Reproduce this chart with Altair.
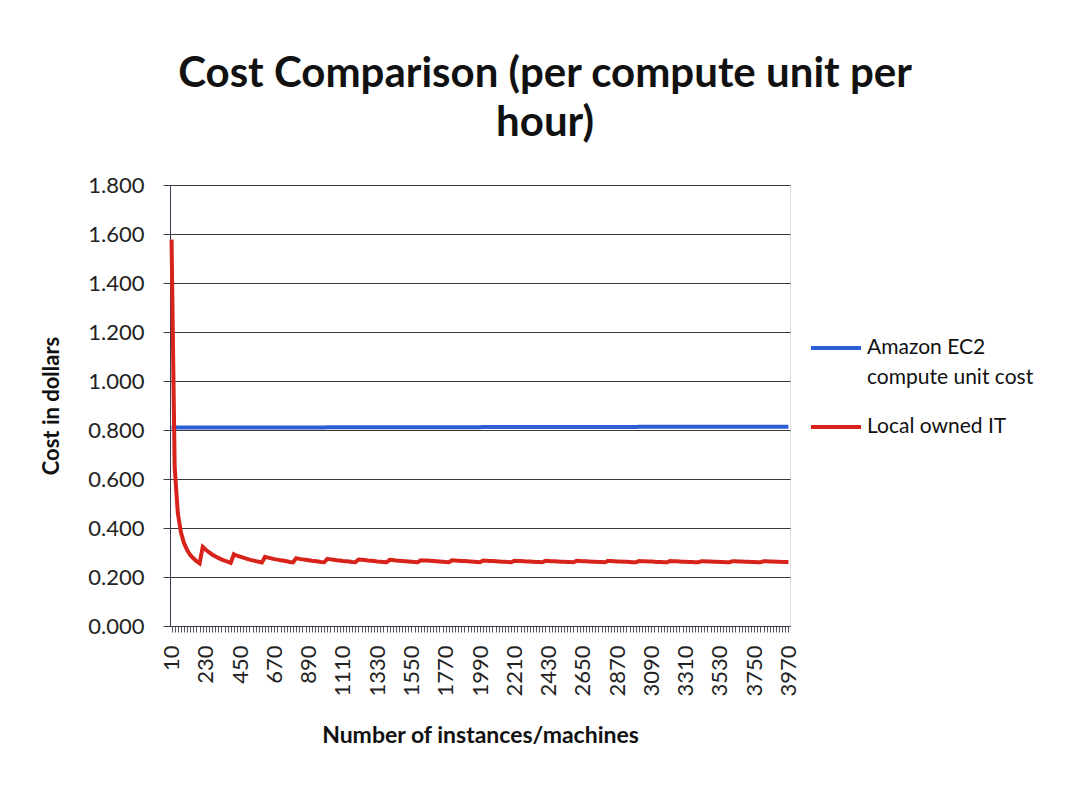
import altair as alt
import pandas as pd

# Category axis: number of instances/machines (every 20)
instances = list(range(10, 3971, 20))

x_tick_labels = [10, 230, 450, 670, 890, 1110, 1330, 1550, 1770, 1990,
                 2210, 2430, 2650, 2870, 3090, 3310, 3530, 3750, 3970]

y_ticks = [0.0, 0.2, 0.4, 0.6, 0.8, 1.0, 1.2, 1.4, 1.6, 1.8]

series_names = ["Amazon EC2 compute unit cost", "Local owned IT"]

amazon_ec2 = [
    0.810, 0.810, 0.810, 0.810, 0.810, 0.810, 0.810, 0.810, 0.810, 0.810,
    0.810, 0.810, 0.810, 0.810, 0.810, 0.810, 0.810, 0.810, 0.810, 0.810,
    0.810, 0.810, 0.810, 0.810, 0.810, 0.810, 0.810, 0.810, 0.810, 0.810,
    0.810, 0.810, 0.810, 0.810, 0.810, 0.810, 0.810, 0.810, 0.810, 0.810,
    0.810, 0.810, 0.810, 0.810, 0.810, 0.810, 0.810, 0.810, 0.810, 0.810,
    0.811, 0.811, 0.811, 0.811, 0.811, 0.811, 0.811, 0.811, 0.811, 0.811,
    0.811, 0.811, 0.811, 0.811, 0.811, 0.811, 0.811, 0.811, 0.811, 0.811,
    0.811, 0.811, 0.811, 0.811, 0.811, 0.811, 0.811, 0.811, 0.811, 0.811,
    0.811, 0.811, 0.811, 0.811, 0.811, 0.811, 0.811, 0.811, 0.811, 0.811,
    0.811, 0.811, 0.811, 0.811, 0.811, 0.811, 0.811, 0.811, 0.811, 0.811,
    0.812, 0.812, 0.812, 0.812, 0.812, 0.812, 0.812, 0.812, 0.812, 0.812,
    0.812, 0.812, 0.812, 0.812, 0.812, 0.812, 0.812, 0.812, 0.812, 0.812,
    0.812, 0.812, 0.812, 0.812, 0.812, 0.812, 0.812, 0.812, 0.812, 0.812,
    0.812, 0.812, 0.812, 0.812, 0.812, 0.812, 0.812, 0.812, 0.812, 0.812,
    0.812, 0.812, 0.812, 0.812, 0.812, 0.812, 0.812, 0.812, 0.812, 0.812,
    0.813, 0.813, 0.813, 0.813, 0.813, 0.813, 0.813, 0.813, 0.813, 0.813,
    0.813, 0.813, 0.813, 0.813, 0.813, 0.813, 0.813, 0.813, 0.813, 0.813,
    0.813, 0.813, 0.813, 0.813, 0.813, 0.813, 0.813, 0.813, 0.813, 0.813,
    0.813, 0.813, 0.813, 0.813, 0.813, 0.813, 0.813, 0.813, 0.813, 0.813,
    0.813, 0.813, 0.813, 0.813, 0.813, 0.813, 0.813, 0.813, 0.813,
]

local_owned_it = [
    1.577, 0.648, 0.462, 0.382, 0.338, 0.310, 0.290, 0.276, 0.265, 0.256,
    0.323, 0.311, 0.301, 0.292, 0.285, 0.278, 0.272, 0.267, 0.263, 0.258,
    0.293, 0.287, 0.283, 0.279, 0.275, 0.271, 0.268, 0.265, 0.262, 0.259,
    0.282, 0.279, 0.276, 0.273, 0.271, 0.268, 0.266, 0.264, 0.261, 0.260,
    0.277, 0.274, 0.272, 0.270, 0.268, 0.266, 0.265, 0.263, 0.261, 0.260,
    0.274, 0.272, 0.270, 0.268, 0.267, 0.265, 0.264, 0.263, 0.261, 0.260,
    0.271, 0.270, 0.269, 0.267, 0.266, 0.265, 0.263, 0.262, 0.261, 0.260,
    0.270, 0.269, 0.267, 0.266, 0.265, 0.264, 0.263, 0.262, 0.261, 0.260,
    0.268, 0.267, 0.267, 0.266, 0.265, 0.264, 0.263, 0.262, 0.261, 0.260,
    0.268, 0.267, 0.266, 0.265, 0.265, 0.264, 0.263, 0.262, 0.261, 0.260,
    0.267, 0.266, 0.265, 0.265, 0.264, 0.263, 0.262, 0.262, 0.261, 0.260,
    0.266, 0.265, 0.265, 0.264, 0.263, 0.263, 0.262, 0.261, 0.261, 0.260,
    0.266, 0.265, 0.264, 0.264, 0.263, 0.262, 0.262, 0.261, 0.261, 0.260,
    0.266, 0.265, 0.264, 0.264, 0.263, 0.262, 0.262, 0.261, 0.261, 0.260,
    0.265, 0.265, 0.264, 0.263, 0.263, 0.262, 0.262, 0.261, 0.260, 0.260,
    0.265, 0.264, 0.264, 0.263, 0.263, 0.262, 0.261, 0.261, 0.260, 0.260,
    0.265, 0.264, 0.264, 0.263, 0.262, 0.262, 0.261, 0.261, 0.260, 0.260,
    0.264, 0.264, 0.263, 0.263, 0.262, 0.262, 0.261, 0.261, 0.260, 0.260,
    0.264, 0.264, 0.263, 0.263, 0.262, 0.262, 0.261, 0.261, 0.260, 0.260,
    0.264, 0.264, 0.263, 0.263, 0.262, 0.262, 0.261, 0.261, 0.261,
]

line_colors = ["#2c5fd4", "#d8231b"]

rows = []
for n, a, l in zip(instances, amazon_ec2, local_owned_it):
    rows.append({"instances": n, "series": series_names[0], "cost": a})
    rows.append({"instances": n, "series": series_names[1], "cost": l})
df = pd.DataFrame(rows)

label_list = ",".join(str(v) for v in x_tick_labels)
x_label_expr = f"indexof([{label_list}], datum.value) >= 0 ? datum.label : ''"

legend_label_expr = (
    "datum.label == 'Amazon EC2 compute unit cost' ? "
    "['Amazon EC2', 'compute unit cost'] : datum.label"
)

chart = (
    alt.Chart(df)
    .mark_line(strokeWidth=4)
    .encode(
        x=alt.X(
            "instances:O",
            sort=instances,
            scale=alt.Scale(padding=0.5),
            axis=alt.Axis(
                title="Number of instances/machines",
                values=instances,
                labelExpr=x_label_expr,
                labelAngle=270,
                labelAlign="right",
                labelBaseline="middle",
                labelOverlap=False,
                labelFlush=False,
                labelPadding=13,
                labelFont="Lato",
                labelFontSize=22,
                labelColor="#222222",
                tickSize=6,
                tickColor="#555566",
                domainColor="#3a3a50",
                titleFont="Lato",
                titleFontSize=23,
                titleFontWeight="bold",
                titleColor="#111111",
                titlePadding=28,
                grid=False,
            ),
        ),
        y=alt.Y(
            "cost:Q",
            scale=alt.Scale(domain=[0, 1.8], nice=False),
            axis=alt.Axis(
                title="Cost in dollars",
                values=y_ticks,
                format=".3f",
                labelFont="Lato",
                labelFontSize=22,
                labelColor="#222222",
                labelPadding=19,
                tickSize=7,
                tickColor="#3a3a50",
                domainColor="#3a3a50",
                gridColor="#3a3a3a",
                gridWidth=1,
                titleFont="Lato",
                titleFontSize=22,
                titleFontWeight="bold",
                titleColor="#111111",
                titlePadding=24,
            ),
        ),
        color=alt.Color(
            "series:N",
            scale=alt.Scale(domain=series_names, range=line_colors),
            legend=alt.Legend(
                title=None,
                orient="none",
                legendX=639,
                legendY=136,
                symbolType="stroke",
                symbolSize=2500,
                symbolStrokeWidth=4,
                labelFont="Lato",
                labelFontSize=21,
                labelColor="#111111",
                labelExpr=legend_label_expr,
                labelBaseline="middle",
                labelOffset=4,
                rowPadding=12,
                labelLimit=300,
            ),
        ),
    )
    .properties(
        width=620,
        height=441,
        title=alt.TitleParams(
            text=["Cost Comparison (per compute unit per", "hour)"],
            font="Lato",
            fontSize=42,
            fontWeight="bold",
            color="#111111",
            anchor="middle",
            lineHeight=49,
            offset=29,
            dx=65,
        ),
        autosize=alt.AutoSizeParams(type="none"),
        padding={"left": 162, "top": 177, "right": 286, "bottom": 159},
        background="white",
    )
    .configure_view(stroke=None)
    .configure(style={"guide-label": {"lineHeight": 30}})
)

chart.save("out.html", embed_options={"renderer": "svg", "actions": False})
